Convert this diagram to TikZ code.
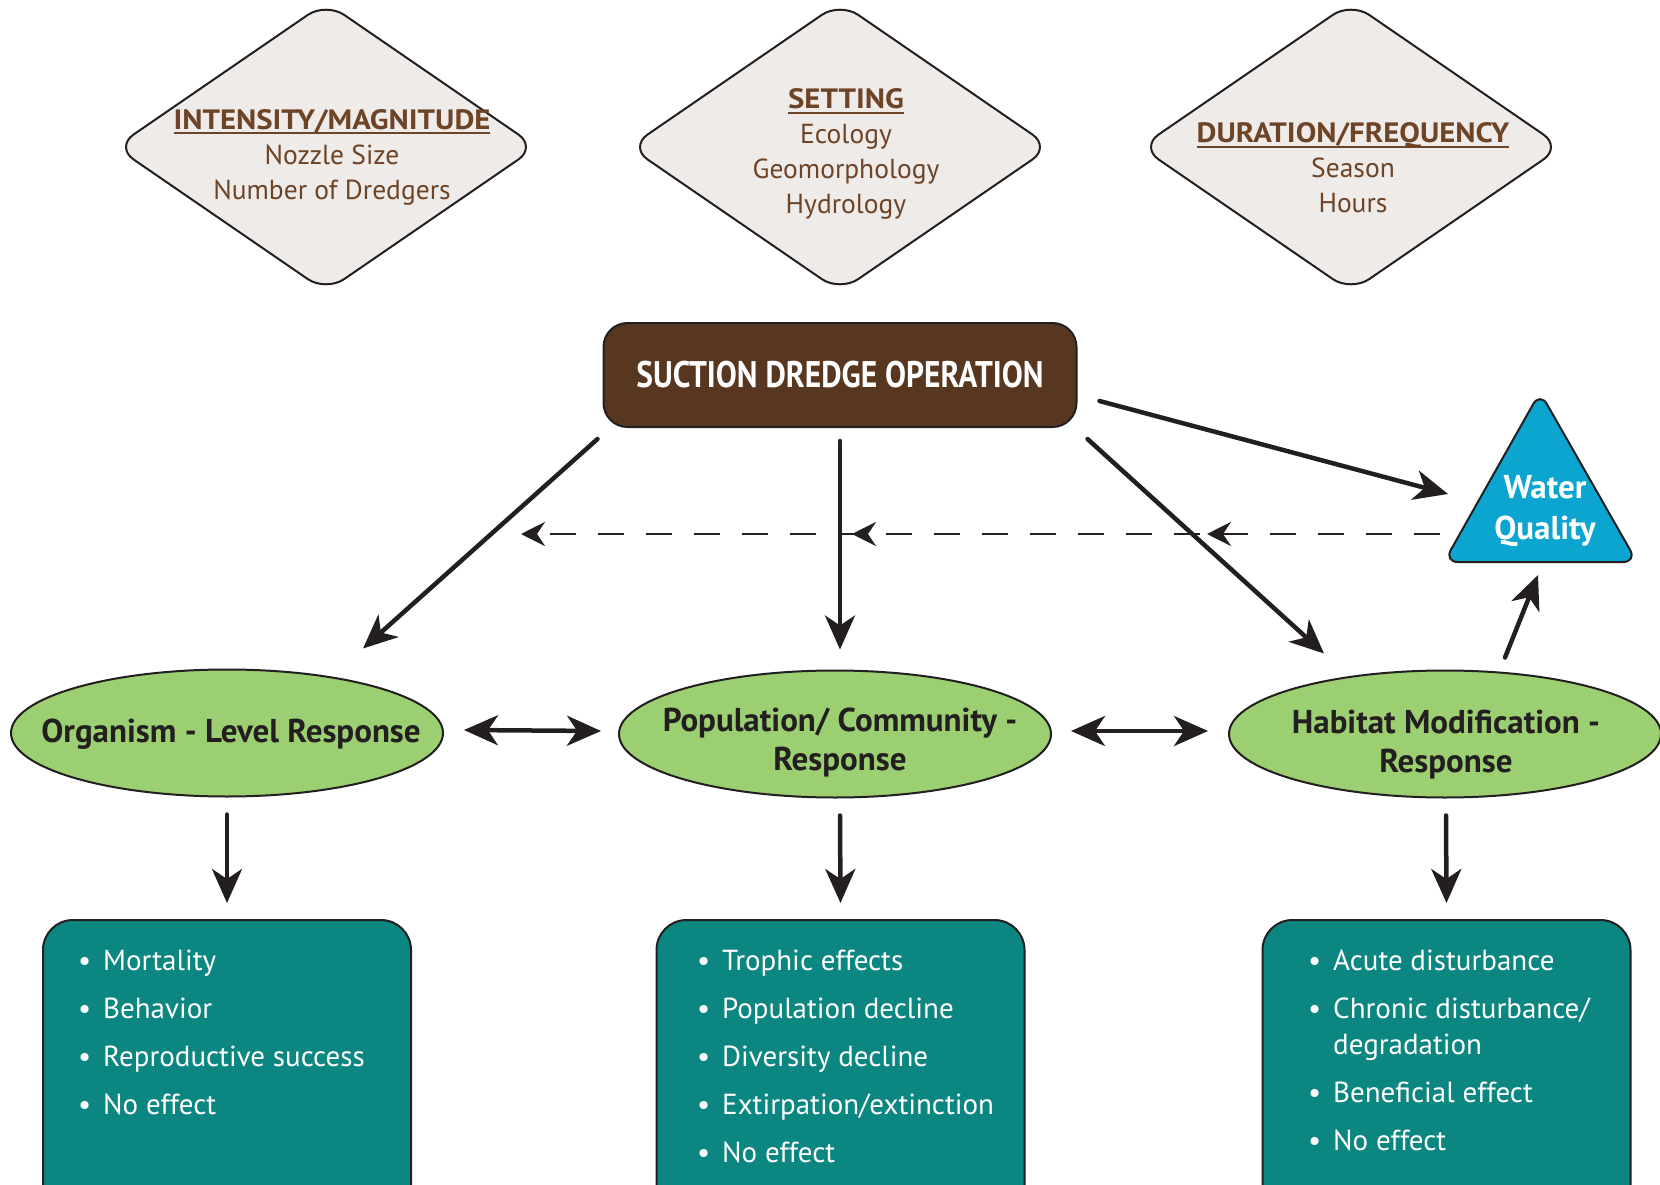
\documentclass[tikz,border=0pt]{standalone}
\usepackage{fontspec}
\setmainfont{PT Sans}
\usetikzlibrary{arrows.meta,decorations.markings,shapes.geometric}
\definecolor{dk}{HTML}{231F20}
\definecolor{diamfill}{HTML}{EEEBE8}
\definecolor{brtext}{HTML}{6E4427}
\definecolor{sdofill}{HTML}{583720}
\definecolor{wqfill}{HTML}{0CA5CF}
\definecolor{grn}{HTML}{9CCF71}
\definecolor{teal}{HTML}{0C8680}
\newcommand\myul[1]{\setbox0\hbox{#1}\rlap{\rule[-5pt]{\wd0}{2pt}}\box0}
\newcommand\dtitle[1]{\myul{\scalebox{1.1}[1]{\fontsize{28}{35}\selectfont\bfseries #1}}}
\newcommand\bul{\makebox[25pt][l]{\textbullet}}
\tikzset{
  diam/.style={shape=diamond, draw=dk, fill=diamfill, line width=2pt, minimum width=422pt, minimum height=290pt, inner sep=0pt, rounded corners=22pt},
  dtext/.style={text=brtext, align=center, font=\fontsize{27.5}{35}\selectfont, inner sep=0pt},
  sdobox/.style={draw=dk, fill=sdofill, line width=2pt, rounded corners=24pt, minimum width=473pt, minimum height=104pt, text=white, font=\fontsize{37}{40}\selectfont\bfseries},
  ell/.style={ellipse, draw=dk, fill=grn, line width=2pt, minimum width=432pt, minimum height=127pt, inner sep=0pt},
  etext/.style={align=center, text=dk, font=\fontsize{33}{39}\selectfont\bfseries, inner sep=0pt},
  listbox/.style={draw=dk, fill=teal, line width=2pt, rounded corners=30pt, minimum width=368pt, minimum height=320pt, anchor=north},
  item/.style={text=white, font=\fontsize{29}{36}\selectfont, align=left, anchor=base west, inner sep=0pt},
  arr/.style={line width=4.5pt, draw=dk, line cap=round, -{Stealth[length=34pt,width=30pt,inset=10pt]}},
  darr/.style={line width=4.5pt, draw=dk, {Stealth[length=34pt,width=30pt,inset=10pt]}-{Stealth[length=34pt,width=30pt,inset=10pt]}},
  dashline/.style={line width=2.8pt, draw=dk, dash pattern=on 26pt off 22pt,
    -{Stealth[length=24pt,width=24pt,inset=8pt]},
    postaction={decorate},
    decoration={markings,
      mark=at position 233pt with {\arrow{Stealth[length=24pt,width=24pt,inset=8pt]}},
      mark=at position 588pt with {\arrow{Stealth[length=24pt,width=24pt,inset=8pt]}}}},
}
\begin{document}
\begin{tikzpicture}[x=1pt,y=-1pt]
\useasboundingbox (0,0) rectangle (1660,1185);
% diamonds
\node[diam] (d1) at (326,147) {};
\node[dtext] (d1t) at (332,157) {\dtitle{INTENSITY/MAGNITUDE}\\Nozzle Size\\Number of Dredgers};
\node[diam] (d2) at (840,147) {};
\node[dtext] (d2t) at (846,154) {\dtitle{SETTING}\\Ecology\\Geomorphology\\Hydrology};
\node[diam] (d3) at (1351,147) {};
\node[dtext] (d3t) at (1353,168) {\dtitle{DURATION/FREQUENCY}\\Season\\Hours};
% main box
\node[sdobox] (sdo) at (840,375) {\scalebox{0.85}[1]{SUCTION DREDGE OPERATION}};
% water quality
\draw[draw=dk, fill=wqfill, line width=2pt, rounded corners=14pt] (1540,392) -- (1637,562) -- (1444,562) -- cycle;
\node[etext, text=white, font=\fontsize{33}{41}\selectfont\bfseries] (wq) at (1545,511) {Water\\Quality};
% ellipses
\node[ell] (org) at (227,733) {};
\node[etext] (orgt) at (231,734) {Organism - Level Response};
\node[ell] (pop) at (835,734) {};
\node[etext] (popt) at (840,743) {Population/ Community -\\Response};
\node[ell] (hab) at (1445,734) {};
\node[etext] (habt) at (1446,745) {Habitat Modification -\\Response};
% list boxes
\node[listbox] (b1) at (227,919) {};
\node[listbox] (b2) at (840.5,919) {};
\node[listbox] (b3) at (1446.5,919) {};
\node[item] (b1a) at (78,970) {\bul Mortality};
\node[item] (b1b) at (78,1018) {\bul Behavior};
\node[item] (b1c) at (78,1066) {\bul Reproductive success};
\node[item] (b1d) at (78,1114) {\bul No effect};
\node[item] (b2a) at (697,970) {\bul Trophic effects};
\node[item] (b2b) at (697,1018) {\bul Population decline};
\node[item] (b2c) at (697,1066) {\bul Diversity decline};
\node[item] (b2d) at (697,1114) {\bul Extirpation/extinction};
\node[item] (b2e) at (697,1162) {\bul No effect};
\node[item] (b3a) at (1308,970) {\bul Acute disturbance};
\node[item] (b3b) at (1308,1018) {\bul Chronic disturbance/};
\node[item] (b3b2) at (1333,1054) {degradation};
\node[item] (b3c) at (1308,1102) {\bul Beneficial effect};
\node[item] (b3d) at (1308,1150) {\bul No effect};
% connectors
\draw[arr] ([shift={(-5,11)}]sdo.south west) -- ([shift={(136,-20)}]org.north);
\draw[arr] ([shift={(0,13)}]sdo.south) -- ([shift={(5,-20)}]pop.north);
\draw[arr] ([shift={(10,11)}]sdo.south east) -- ([shift={(-121,-16)}]hab.north);
\draw[arr] ([shift={(22,26)}]sdo.east) -- ([shift={(-97,-17)}]wq.center);
\draw[arr] ([shift={(60,-12)}]hab.north) -- ([shift={(-7,64)}]wq.center);
\draw[darr] ([shift={(20,-3)}]org.east) -- ([shift={(-17,-3)}]pop.west);
\draw[darr] ([shift={(19,-3)}]pop.east) -- ([shift={(-20,-3)}]hab.west);
\draw[arr] ([shift={(0,17)}]org.south) -- ([shift={(0,-16)}]b1.north);
\draw[arr] ([shift={(5,17)}]pop.south) -- ([shift={(0,-16)}]b2.north);
\draw[arr] ([shift={(1,17)}]hab.south) -- ([shift={(0,-16)}]b3.north);
\coordinate (dend) at (521,534);
\draw[dashline] ([shift={(-105,23)}]wq.center) -- (dend);
\end{tikzpicture}
\end{document}
